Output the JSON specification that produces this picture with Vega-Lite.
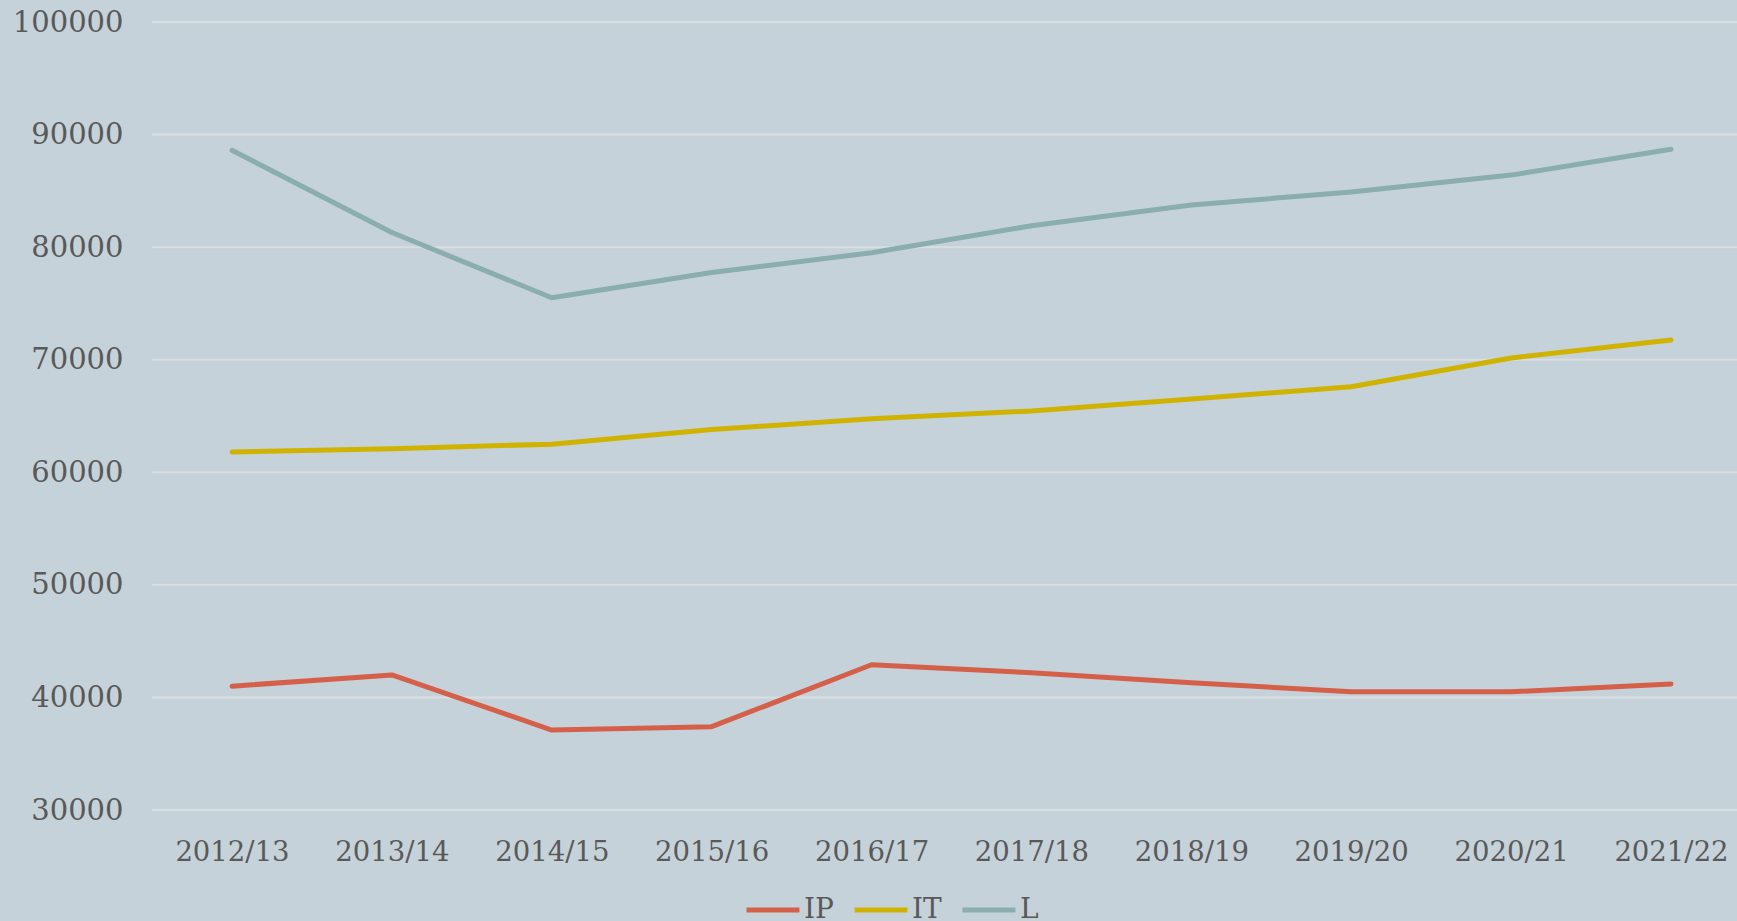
{
  "$schema": "https://vega.github.io/schema/vega-lite/v6.json",
  "width": 1585,
  "height": 788,
  "autosize": {"type": "none"},
  "padding": {"left": 152, "top": 22, "right": 0, "bottom": 111},
  "background": "#C6D2D9",
  "config": {
    "view": {"stroke": null, "fill": "#C6D2D9"},
    "font": "DejaVu Serif",
    "axis": {"labelFont": "DejaVu Serif", "labelColor": "#595959", "domain": false, "ticks": false, "title": null}
  },
  "datasets": {
    "grid": [
      {"v": 30000}, {"v": 40000}, {"v": 50000}, {"v": 60000},
      {"v": 70000}, {"v": 80000}, {"v": 90000}, {"v": 100000}
    ],
    "main": [
      {"year": "2012/13", "series": "IP", "value": 41000},
      {"year": "2013/14", "series": "IP", "value": 42000},
      {"year": "2014/15", "series": "IP", "value": 37100},
      {"year": "2015/16", "series": "IP", "value": 37400},
      {"year": "2016/17", "series": "IP", "value": 42900},
      {"year": "2017/18", "series": "IP", "value": 42200},
      {"year": "2018/19", "series": "IP", "value": 41300},
      {"year": "2019/20", "series": "IP", "value": 40500},
      {"year": "2020/21", "series": "IP", "value": 40500},
      {"year": "2021/22", "series": "IP", "value": 41200},
      {"year": "2012/13", "series": "IT", "value": 61800},
      {"year": "2013/14", "series": "IT", "value": 62100},
      {"year": "2014/15", "series": "IT", "value": 62500},
      {"year": "2015/16", "series": "IT", "value": 63800},
      {"year": "2016/17", "series": "IT", "value": 64750},
      {"year": "2017/18", "series": "IT", "value": 65450},
      {"year": "2018/19", "series": "IT", "value": 66500},
      {"year": "2019/20", "series": "IT", "value": 67600},
      {"year": "2020/21", "series": "IT", "value": 70150},
      {"year": "2021/22", "series": "IT", "value": 71750},
      {"year": "2012/13", "series": "L", "value": 88600},
      {"year": "2013/14", "series": "L", "value": 81300},
      {"year": "2014/15", "series": "L", "value": 75500},
      {"year": "2015/16", "series": "L", "value": 77750},
      {"year": "2016/17", "series": "L", "value": 79500},
      {"year": "2017/18", "series": "L", "value": 81900},
      {"year": "2018/19", "series": "L", "value": 83750},
      {"year": "2019/20", "series": "L", "value": 84900},
      {"year": "2020/21", "series": "L", "value": 86400},
      {"year": "2021/22", "series": "L", "value": 88700}
    ]
  },
  "layer": [
    {
      "data": {"name": "grid"},
      "mark": {"type": "rule", "color": "#D9DEE1", "strokeWidth": 2},
      "encoding": {
        "y": {
          "field": "v",
          "type": "quantitative",
          "scale": {"domain": [30000, 100000], "nice": false, "zero": false},
          "axis": {"values": [30000, 40000, 50000, 60000, 70000, 80000, 90000, 100000], "format": "d", "labelPadding": 29, "labelFontSize": 29, "grid": false}
        }
      }
    },
    {
      "data": {"name": "main"},
      "mark": {"type": "line", "strokeWidth": 5, "strokeCap": "round", "strokeJoin": "round"},
      "encoding": {
        "x": {
          "field": "year",
          "type": "ordinal",
          "scale": {"type": "point", "range": [80, 1519], "padding": 0},
          "axis": {"labelAngle": 0, "labelPadding": 28, "labelFontSize": 27.5, "grid": false}
        },
        "y": {"field": "value", "type": "quantitative"},
        "color": {
          "field": "series",
          "type": "nominal",
          "scale": {"domain": ["IP", "IT", "L"], "range": ["#D5604A", "#CFB300", "#8AADAD"]},
          "legend": {
            "title": null,
            "orient": "none",
            "legendX": 592,
            "legendY": 859,
            "direction": "horizontal",
            "symbolType": "stroke",
            "symbolSize": 2800,
            "symbolStrokeWidth": 5,
            "labelFont": "DejaVu Serif",
            "labelFontSize": 28,
            "labelColor": "#595959",
            "labelOffset": 2,
            "columnPadding": 10
          }
        }
      }
    }
  ]
}
